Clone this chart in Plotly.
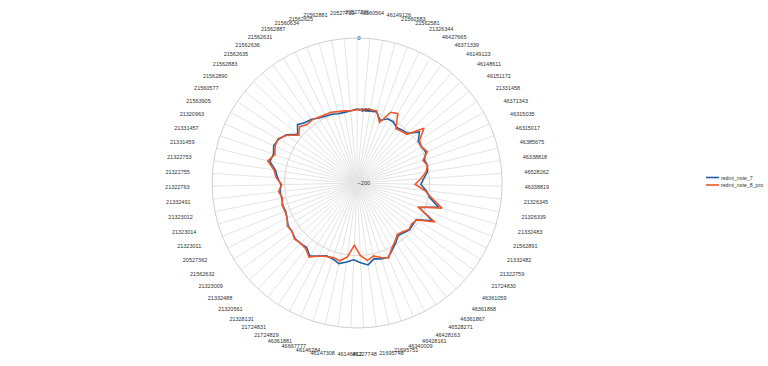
import plotly.graph_objects as go

categories = [
    "20527731", "46560564", "46149126", "21560583", "21562581", "21326344", "46427665", "46371339",
    "46149123", "46148611", "46151172", "21331458", "46371343", "46315035", "46315017", "46385675",
    "46338818", "46528262", "46338819", "21326345", "21326339", "21332483", "21562891", "21332482",
    "21322759", "21724830", "46361059", "46361868", "46361867", "46528271", "46428163", "46428161",
    "46340009", "21695751", "21695748", "46227748", "46146812", "46147308", "46146284", "46667777",
    "46361881", "21724829", "21724831", "21328131", "21320561", "21332488", "21323009", "21562632",
    "20527362", "21323011", "21323014", "21323012", "21332491", "21322763", "21322755", "21322753",
    "21331459", "21331457", "21320963", "21563905", "21560577", "21562890", "21562883", "21562635",
    "21562636", "21562631", "21562887", "21560634", "21562625", "21562881", "20527730",
]

redmi_note_8_pro = [
    -99, -98, -97, -97, -111, -92, -89, -108, -106, -104, -81, -96, -98, -94, -104, -100,
    -104, -112, -120, -106, -95, -78, -110, -80, -103, -106, -104, -108, -110, -104, -98, -88,
    -92, -97, -92, -100, -114, -97, -90, -92, -90, -86, -78, -85, -86, -84, -88, -87,
    -92, -93, -92, -95, -91, -96, -88, -84, -73, -80, -76, -75, -83, -96, -89, -94,
    -93, -95, -96, -96, -98, -99, -100,
]

redmi_note_7 = [
    -98, -99, -99, -98, -108, -102, -102, -106, -104, -102, -89, -98, -98, -96, -102, -100,
    -102, -108, -112, -104, -98, -83, -108, -84, -104, -104, -103, -106, -108, -102, -96, -89,
    -90, -93, -86, -90, -94, -90, -86, -90, -91, -86, -80, -87, -86, -85, -88, -88,
    -92, -94, -93, -94, -93, -95, -90, -86, -76, -78, -74, -76, -82, -94, -85, -90,
    -92, -96, -98, -99, -101, -101, -100,
]

series_names = ["redmi_note_7", "redmi_note_8_pro"]
series_colors = ["#1f5fa6", "#f2592a"]
radial_ticks = [-200, -100, 0]

def closed(v):
    return list(v) + [v[0]]

fig = go.Figure()
for name, vals, col in zip(series_names, [redmi_note_7, redmi_note_8_pro], series_colors):
    fig.add_trace(go.Scatterpolar(
        r=closed(vals), theta=closed(categories), mode="lines",
        name=name, line=dict(color=col, width=1.6), showlegend=False,
    ))

# compact legend (short line swatch + label), as in the reference
W, H, T, B = 768, 366, 38, 38
def py(Y):
    return 1 - (Y - T) / (H - T - B)

for i, (name, col) in enumerate(zip(series_names, series_colors)):
    Y = 177.5 + i * 7.5
    fig.add_shape(type="line", xref="paper", yref="paper",
                  x0=706 / W, x1=719 / W, y0=py(Y), y1=py(Y),
                  line=dict(color=col, width=1.6))
    fig.add_annotation(x=719 / W, y=py(Y), xref="paper", yref="paper",
                       text=name, showarrow=False, xanchor="left", yanchor="middle",
                       font=dict(size=5.2, color="#333"))

fig.update_layout(
    width=W, height=H,
    margin=dict(l=0, r=0, t=T, b=B),
    paper_bgcolor="white",
    font=dict(family="Liberation Sans, Arial, sans-serif", size=5.5, color="#333"),
    showlegend=False,
    polar=dict(
        domain=dict(x=[0.0, 0.93], y=[0, 1]),
        bgcolor="white",
        angularaxis=dict(
            type="category", categoryorder="array", categoryarray=categories,
            tickmode="array", tickvals=categories, ticktext=categories,
            direction="clockwise", rotation=90,
            ticks="outside", ticklen=21, tickcolor="rgba(0,0,0,0)",
            tickfont=dict(size=5.5, color="#333"),
            showline=True, linecolor="#d0d0d0", linewidth=1,
            gridcolor="#e4e4e4", gridwidth=1,
        ),
        radialaxis=dict(
            range=[-200, 0], tickmode="array", tickvals=radial_ticks,
            angle=90, tickangle=90, showline=False, ticks="",
            tickfont=dict(size=5.5, color="#333"),
            gridcolor="#d6d6d6", gridwidth=1,
        ),
    ),
)

fig.write_html("out.html", config={"displayModeBar": False},
               post_script="document.body.style.margin='0px';")
